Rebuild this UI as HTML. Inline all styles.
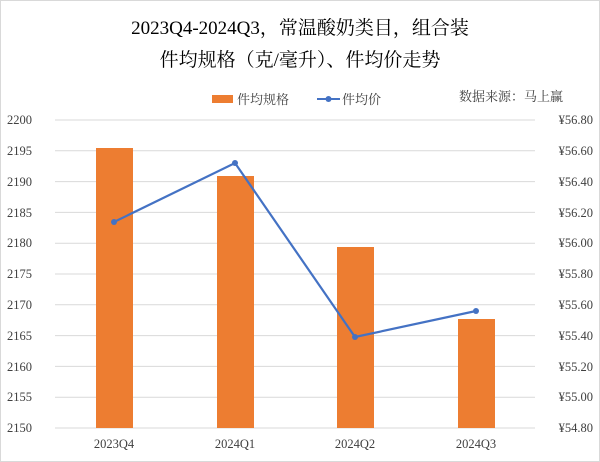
<!DOCTYPE html>
<html><head><meta charset="utf-8"><style>
body{margin:0;background:#fff}
</style></head><body>
<svg width="600" height="462" xmlns="http://www.w3.org/2000/svg" style="display:block">
<rect x="0.5" y="0.5" width="599" height="461" fill="#fff" stroke="#d9d9d9"/>
<g font-family="'Liberation Serif','Noto Serif CJK SC',serif" fill="#000" text-anchor="middle" font-size="19">
<text x="300" y="34">2023Q4-2024Q3，常温酸奶类目，组合装</text>
<text x="300" y="66">件均规格（克/毫升）、件均价走势</text>
</g>
<g font-family="'Liberation Serif','Noto Serif CJK SC',serif" font-size="13" fill="#404040">
<rect x="212" y="95" width="21" height="8" fill="#ed7d31"/>
<text x="237" y="104">件均规格</text>
<line x1="317" y1="99" x2="340" y2="99" stroke="#4472c4" stroke-width="2"/>
<circle cx="328.5" cy="99" r="3" fill="#4472c4"/>
<text x="342" y="104">件均价</text>
<text x="459" y="101">数据来源：马上赢</text>
</g>
<g stroke="#d9d9d9" stroke-width="1">
<line x1="55" y1="120" x2="535" y2="120"/><line x1="55" y1="150.8" x2="535" y2="150.8"/>
<line x1="55" y1="181.6" x2="535" y2="181.6"/><line x1="55" y1="212.4" x2="535" y2="212.4"/>
<line x1="55" y1="243.2" x2="535" y2="243.2"/><line x1="55" y1="274" x2="535" y2="274"/>
<line x1="55" y1="304.8" x2="535" y2="304.8"/><line x1="55" y1="335.6" x2="535" y2="335.6"/>
<line x1="55" y1="366.4" x2="535" y2="366.4"/><line x1="55" y1="397.2" x2="535" y2="397.2"/>
<line x1="55" y1="428" x2="535" y2="428"/>
</g>
<g fill="#ed7d31">
<rect x="96" y="148" width="37" height="280"/>
<rect x="217" y="176" width="37" height="252"/>
<rect x="337" y="247" width="37" height="181"/>
<rect x="458" y="319" width="37" height="109"/>
</g>
<polyline points="114,222 235,163 355,337 476,311" fill="none" stroke="#4472c4" stroke-width="2.2"/>
<g fill="#4472c4"><circle cx="114" cy="222" r="3"/><circle cx="235" cy="163" r="3"/><circle cx="355" cy="337" r="3"/><circle cx="476" cy="311" r="3"/></g>
<g font-family="'Liberation Serif',serif" font-size="12.5" fill="#404040">
<g text-anchor="start">
<text x="7" y="124">2200</text><text x="7" y="155">2195</text><text x="7" y="186">2190</text><text x="7" y="217">2185</text><text x="7" y="247">2180</text><text x="7" y="278">2175</text><text x="7" y="309">2170</text><text x="7" y="340">2165</text><text x="7" y="371">2160</text><text x="7" y="401">2155</text><text x="7" y="432">2150</text>
</g>
<g text-anchor="end">
<text x="593" y="124">¥56.80</text><text x="593" y="155">¥56.60</text><text x="593" y="186">¥56.40</text><text x="593" y="217">¥56.20</text><text x="593" y="247">¥56.00</text><text x="593" y="278">¥55.80</text><text x="593" y="309">¥55.60</text><text x="593" y="340">¥55.40</text><text x="593" y="371">¥55.20</text><text x="593" y="401">¥55.00</text><text x="593" y="432">¥54.80</text>
</g>
<g text-anchor="middle">
<text x="114" y="448">2023Q4</text><text x="235" y="448">2024Q1</text><text x="355" y="448">2024Q2</text><text x="476" y="448">2024Q3</text>
</g>
</g>
</svg>
</body></html>
